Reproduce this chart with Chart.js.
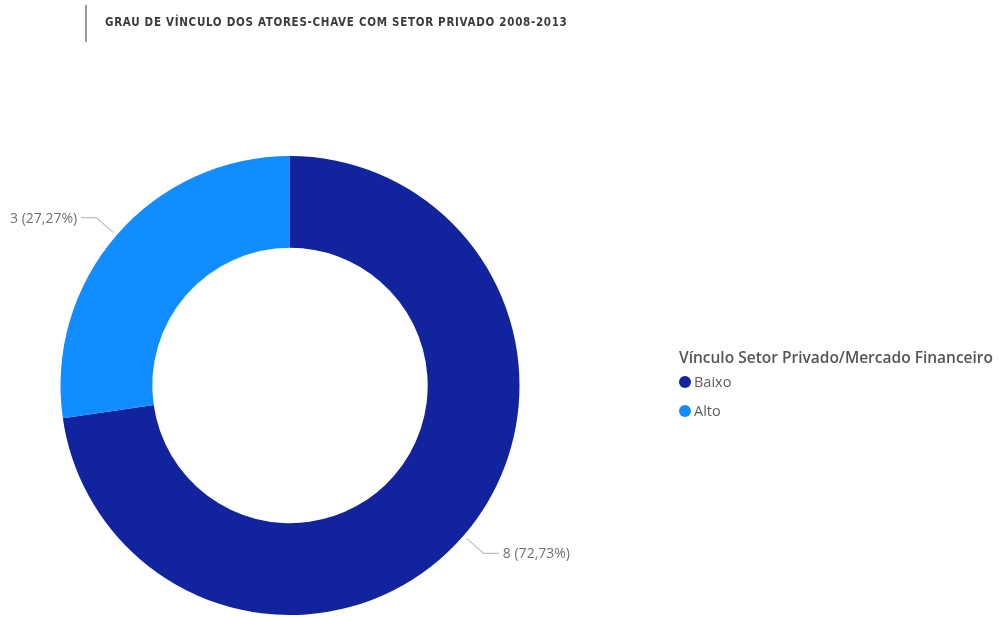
<!DOCTYPE html>
<html lang="pt">
<head>
<meta charset="utf-8">
<script src="https://cdn.jsdelivr.net/npm/chart.js@4"></script>
<style>
  html, body { margin: 0; padding: 0; background: #fff; }
  #wrap { position: relative; width: 999px; height: 617px; overflow: hidden; }
  #chart { position: absolute; left: 0; top: 0; }
  #titleBar { position: absolute; left: 85px; top: 5px; width: 2px; height: 37px; background: #999; }
  #title {
    position: absolute; left: 105px; top: 15px;
    font-family: "DejaVu Sans Condensed", "DejaVu Sans", sans-serif;
    font-stretch: condensed; font-weight: bold; font-size: 11.5px;
    letter-spacing: 0.7px; color: #3b3b3b; white-space: nowrap;
  }
  #legend { position: absolute; left: 679px; top: 346px; font-family: "Open Sans", "Noto Sans", sans-serif; color: #605E5C; }
  #legend .head { font-weight: 600; font-size: 15.5px; color: #555; white-space: nowrap; line-height: 22px; margin-bottom: 3px; }
  #legend .item { position: relative; font-size: 14.5px; height: 29px; line-height: 22px; padding-left: 15px; }
  #legend .dot { position: absolute; left: 0px; top: 5px; width: 12px; height: 12px; border-radius: 50%; }
</style>
</head>
<body>
<div id="wrap">
  <canvas id="chart" width="999" height="617"></canvas>
  <div id="titleBar"></div>
  <div id="title">GRAU DE VÍNCULO DOS ATORES-CHAVE COM SETOR PRIVADO 2008-2013</div>
  <div id="legend"></div>
</div>
<script>
// Categories and counts of key actors by private-sector link
const categories = ["Baixo", "Alto"];
const counts = [8, 3];
const colors = ["#12239E", "#118DFF"];
const legendTitle = "Vínculo Setor Privado/Mercado Financeiro";

// HTML legend
const legend = document.getElementById("legend");
const head = document.createElement("div");
head.className = "head";
head.textContent = legendTitle;
legend.appendChild(head);
categories.forEach((c, i) => {
  const it = document.createElement("div");
  it.className = "item";
  const d = document.createElement("span");
  d.className = "dot";
  d.style.background = colors[i];
  it.appendChild(d);
  it.appendChild(document.createTextNode(c));
  legend.appendChild(it);
});

// Value labels with leader lines, e.g. "8 (72,73%)"
const outsideLabels = {
  id: "outsideLabels",
  afterDatasetsDraw(chart) {
    const ctx = chart.ctx;
    const meta = chart.getDatasetMeta(0);
    const data = chart.data.datasets[0].data;
    const total = data.reduce((a, b) => a + b, 0);
    ctx.save();
    meta.data.forEach((arc, i) => {
      const mid = (arc.startAngle + arc.endAngle) / 2;
      const r = arc.outerRadius;
      const cos = Math.cos(mid), sin = Math.sin(mid);
      const x0 = arc.x + cos * (r + 4), y0 = arc.y + sin * (r + 4);
      const x1 = arc.x + cos * (r + 27), y1 = arc.y + sin * (r + 27);
      const right = cos >= 0;
      const x2 = x1 + (right ? 15 : -15);
      ctx.strokeStyle = "#bdbdbd";
      ctx.lineWidth = 1.2;
      ctx.beginPath();
      ctx.moveTo(x0, y0);
      ctx.lineTo(x1, y1);
      ctx.lineTo(x2, y1);
      ctx.stroke();
      const pct = (data[i] / total * 100).toFixed(2).replace(".", ",");
      ctx.fillStyle = "#707070";
      ctx.font = '14px "Open Sans", "Noto Sans", sans-serif';
      ctx.textBaseline = "middle";
      ctx.textAlign = right ? "left" : "right";
      ctx.fillText(data[i] + " (" + pct + "%)", x2 + (right ? 4 : -4), y1 + 1);
    });
    ctx.restore();
  }
};

new Chart(document.getElementById("chart"), {
  type: "doughnut",
  data: {
    labels: categories,
    datasets: [{ data: counts, backgroundColor: colors, borderWidth: 0 }]
  },
  options: {
    responsive: false,
    animation: false,
    cutout: "60%",
    layout: { padding: { left: 60.5, right: 479.5, top: 156, bottom: 2 } },
    plugins: { legend: { display: false }, tooltip: { enabled: false } }
  },
  plugins: [outsideLabels]
});
</script>
</body>
</html>
